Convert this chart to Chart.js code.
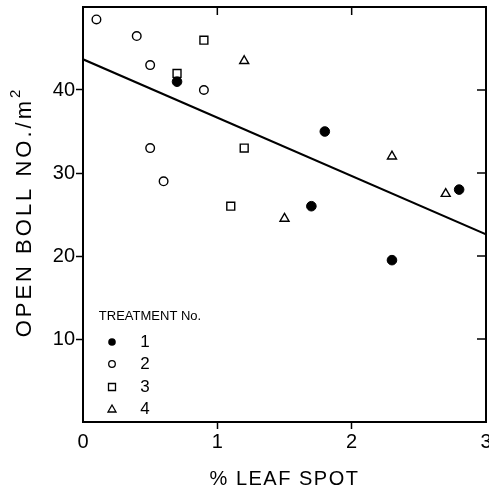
<!DOCTYPE html>
<html>
<head>
<meta charset="utf-8">
<script src="https://cdn.jsdelivr.net/npm/chart.js@4.4.1/dist/chart.umd.min.js"></script>
<style>
  html, body { margin: 0; padding: 0; background: #fff; overflow: hidden; }
  #wrap { width: 489px; height: 495px; overflow: hidden; }
</style>
</head>
<body>
<div id="wrap"><canvas id="scatterChart" width="493" height="495"></canvas></div>
<script>
const CHART = document.getElementById("scatterChart");

// treatment 1 (filled circle)
var t1X = [0.7, 1.7, 1.8, 2.3, 2.8];
var t1Y = [41, 26, 35, 19.5, 28];
// treatment 2 (open circle)
var t2X = [0.1, 0.4, 0.5, 0.9, 0.5, 0.6];
var t2Y = [48.5, 46.5, 43, 40, 33, 29];
// treatment 3 (open square)
var t3X = [0.9, 0.7, 1.2, 1.1];
var t3Y = [46, 42, 33, 26];
// treatment 4 (open triangle)
var t4X = [1.2, 2.3, 2.7, 1.5];
var t4Y = [43.5, 32, 27.5, 24.5];
// regression line
var fitX = [0, 3];
var fitY = [43.7, 22.6];

var xTicks = [0, 1, 2, 3];
var yTicks = [10, 20, 30, 40];
var legendLabels = ["1", "2", "3", "4"];

var FONT = "'Liberation Sans', Arial, sans-serif";

function pts(xs, ys) {
  return xs.map(function (x, i) { return { x: x, y: ys[i] }; });
}

// inward ticks on top / right, box, titles and legend
var extras = {
  id: "extras",
  afterDraw: function (chart) {
    var ctx = chart.ctx;
    var a = chart.chartArea;
    var xs = chart.scales.x, ys = chart.scales.y;
    ctx.save();
    ctx.strokeStyle = "#000";
    ctx.lineWidth = 2;
    ctx.strokeRect(a.left, a.top, a.right - a.left, a.bottom - a.top);
    ctx.lineWidth = 1.5;
    ctx.beginPath();
    [1, 2].forEach(function (v) {
      var px = xs.getPixelForValue(v);
      ctx.moveTo(px, a.top); ctx.lineTo(px, a.top + 8);
    });
    yTicks.forEach(function (v) {
      var py = ys.getPixelForValue(v);
      ctx.moveTo(a.right, py); ctx.lineTo(a.right - 9, py);
    });
    ctx.stroke();

    // axis titles
    ctx.fillStyle = "#000";
    ctx.font = "20px " + FONT;
    ctx.letterSpacing = "1.5px";
    ctx.textAlign = "center";
    ctx.textBaseline = "middle";
    ctx.fillText("% LEAF SPOT", (a.left + a.right) / 2, 479);

    ctx.save();
    ctx.translate(25, 212);
    ctx.rotate(-Math.PI / 2);
    ctx.font = "22px " + FONT;
    ctx.letterSpacing = "3px";
    var main = "OPEN BOLL NO./m";
    var w1 = ctx.measureText(main).width;
    ctx.font = "15px " + FONT;
    var w2 = ctx.measureText("2").width;
    var start = -(w1 + w2) / 2;
    ctx.textAlign = "left";
    ctx.font = "22px " + FONT;
    ctx.fillText(main, start, 0);
    ctx.font = "15px " + FONT;
    ctx.fillText("2", start + w1, -9);
    ctx.restore();

    // legend
    ctx.letterSpacing = "0px";
    ctx.font = "13px " + FONT;
    ctx.textAlign = "center";
    ctx.fillText("TREATMENT No.", 150, 316);
    var rows = [342, 364, 387, 409];
    ctx.font = "17px " + FONT;
    ctx.lineWidth = 1.3;
    rows.forEach(function (y, i) {
      var x = 112;
      ctx.beginPath();
      if (i === 0) {
        ctx.arc(x, y, 3.8, 0, Math.PI * 2);
        ctx.fill();
      } else if (i === 1) {
        ctx.arc(x, y, 3.3, 0, Math.PI * 2);
        ctx.stroke();
      } else if (i === 2) {
        ctx.rect(x - 3.5, y - 3.5, 7, 7);
        ctx.stroke();
      } else {
        ctx.moveTo(x, y - 4); ctx.lineTo(x + 4, y + 3); ctx.lineTo(x - 4, y + 3); ctx.closePath();
        ctx.stroke();
      }
      ctx.fillText(legendLabels[i], 145, y);
    });
    ctx.restore();
  }
};

let scatterChart = new Chart(CHART, {
  type: "scatter",
  data: {
    datasets: [
      {
        label: "1", data: pts(t1X, t1Y),
        pointStyle: "circle", pointRadius: 4.8,
        backgroundColor: "#000", borderColor: "#000", borderWidth: 1
      },
      {
        label: "2", data: pts(t2X, t2Y),
        pointStyle: "circle", pointRadius: 4.3,
        backgroundColor: "#fff", borderColor: "#000", borderWidth: 1.4
      },
      {
        label: "3", data: pts(t3X, t3Y),
        pointStyle: "rect", pointRadius: 5.6,
        backgroundColor: "#fff", borderColor: "#000", borderWidth: 1.4
      },
      {
        label: "4", data: pts(t4X, t4Y),
        pointStyle: "triangle", pointRadius: 5.2,
        backgroundColor: "#fff", borderColor: "#000", borderWidth: 1.4
      },
      {
        type: "line", label: "fit", data: pts(fitX, fitY),
        borderColor: "#000", borderWidth: 2, pointRadius: 0, fill: false,
        tension: 0
      }
    ]
  },
  options: {
    responsive: false,
    animation: false,
    layout: { padding: { top: 6, right: 3, left: 0, bottom: 0 } },
    plugins: { legend: { display: false }, tooltip: { enabled: false } },
    scales: {
      x: {
        type: "linear", min: 0, max: 3,
        afterBuildTicks: function (s) { s.ticks = xTicks.map(function (v) { return { value: v }; }); },
        afterFit: function (s) { s.height = 73; s.paddingLeft = 0; s.paddingRight = 0; },
        ticks: { color: "#000", font: { family: FONT, size: 20 }, padding: 1, maxRotation: 0 },
        grid: {
          drawOnChartArea: false, tickLength: 7, tickWidth: 1.5,
          color: function (c) { return (c.tick && (c.tick.value === 1 || c.tick.value === 2)) ? "#000" : "rgba(0,0,0,0)"; }
        },
        border: { display: false }
      },
      y: {
        type: "linear", min: 0, max: 50,
        afterBuildTicks: function (s) { s.ticks = yTicks.map(function (v) { return { value: v }; }); },
        afterFit: function (s) { s.width = 83; s.paddingTop = 0; s.paddingBottom = 0; },
        ticks: { color: "#000", font: { family: FONT, size: 20 }, padding: 1 },
        grid: { drawOnChartArea: false, tickLength: 7, tickWidth: 1.5, color: "#000" },
        border: { display: false }
      }
    }
  },
  plugins: [extras]
});
</script>
</body>
</html>
